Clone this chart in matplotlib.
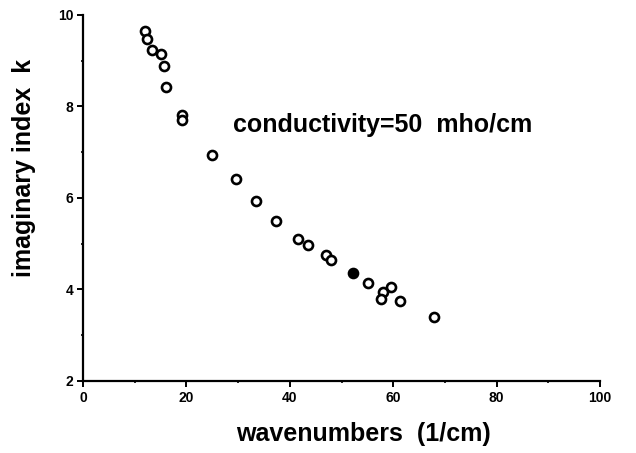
import matplotlib
matplotlib.use('Agg')
import matplotlib.pyplot as plt
from matplotlib.ticker import MultipleLocator

plt.rcParams['font.family'] = ['Liberation Sans', 'DejaVu Sans']
plt.rcParams['font.weight'] = 'bold'

# open circles: wavenumber (1/cm), imaginary index k
wavenumbers = [11.9, 12.3, 13.3, 15.1, 15.7, 16.1, 19.1, 19.1, 25.0, 29.5,
               33.4, 37.4, 41.6, 43.5, 46.9, 48.0, 55.1, 59.5, 58.1, 57.7,
               61.3, 67.8]
k_values = [9.66, 9.47, 9.23, 9.14, 8.89, 8.43, 7.81, 7.70, 6.93, 6.42,
            5.94, 5.50, 5.11, 4.98, 4.75, 4.64, 4.15, 4.05, 3.95, 3.80,
            3.74, 3.39]
# the one filled point
filled_wn = [52.2]
filled_k = [4.37]

fig = plt.figure(figsize=(6.36, 4.53), dpi=100)
ax = fig.add_axes([0.1305, 0.159, 0.813, 0.808])

ax.plot(wavenumbers, k_values, 'o', ms=6.5, mfc='white', mec='black', mew=1.9)
ax.plot(filled_wn, filled_k, 'o', ms=6.5, mfc='black', mec='black', mew=1.9)

ax.set_xlim(0, 100)
ax.set_ylim(2, 10)
ax.xaxis.set_major_locator(MultipleLocator(20))
ax.xaxis.set_minor_locator(MultipleLocator(10))
ax.yaxis.set_major_locator(MultipleLocator(2))
ax.yaxis.set_minor_locator(MultipleLocator(1))

for s in ['top', 'right']:
    ax.spines[s].set_visible(False)
for s in ['left', 'bottom']:
    ax.spines[s].set_linewidth(1.6)

ax.tick_params(which='major', direction='out', length=4, width=1.4,
               labelsize=10, pad=3)
ax.tick_params(which='minor', direction='out', length=1.5, width=1.2)
for lab in ax.get_xticklabels() + ax.get_yticklabels():
    lab.set_fontweight('bold')

ax.text(0.29, 0.68, 'conductivity=50  mho/cm', transform=ax.transAxes,
        fontsize=18, fontweight='bold', va='baseline')

fig.text(0.571, 0.026, 'wavenumbers  (1/cm)', fontsize=18, fontweight='bold',
         ha='center', va='baseline')
fig.text(0.037, 0.629, 'imaginary index  k', fontsize=18, fontweight='bold',
         ha='center', va='center', rotation=90)

fig.savefig('out.png', dpi=100)
